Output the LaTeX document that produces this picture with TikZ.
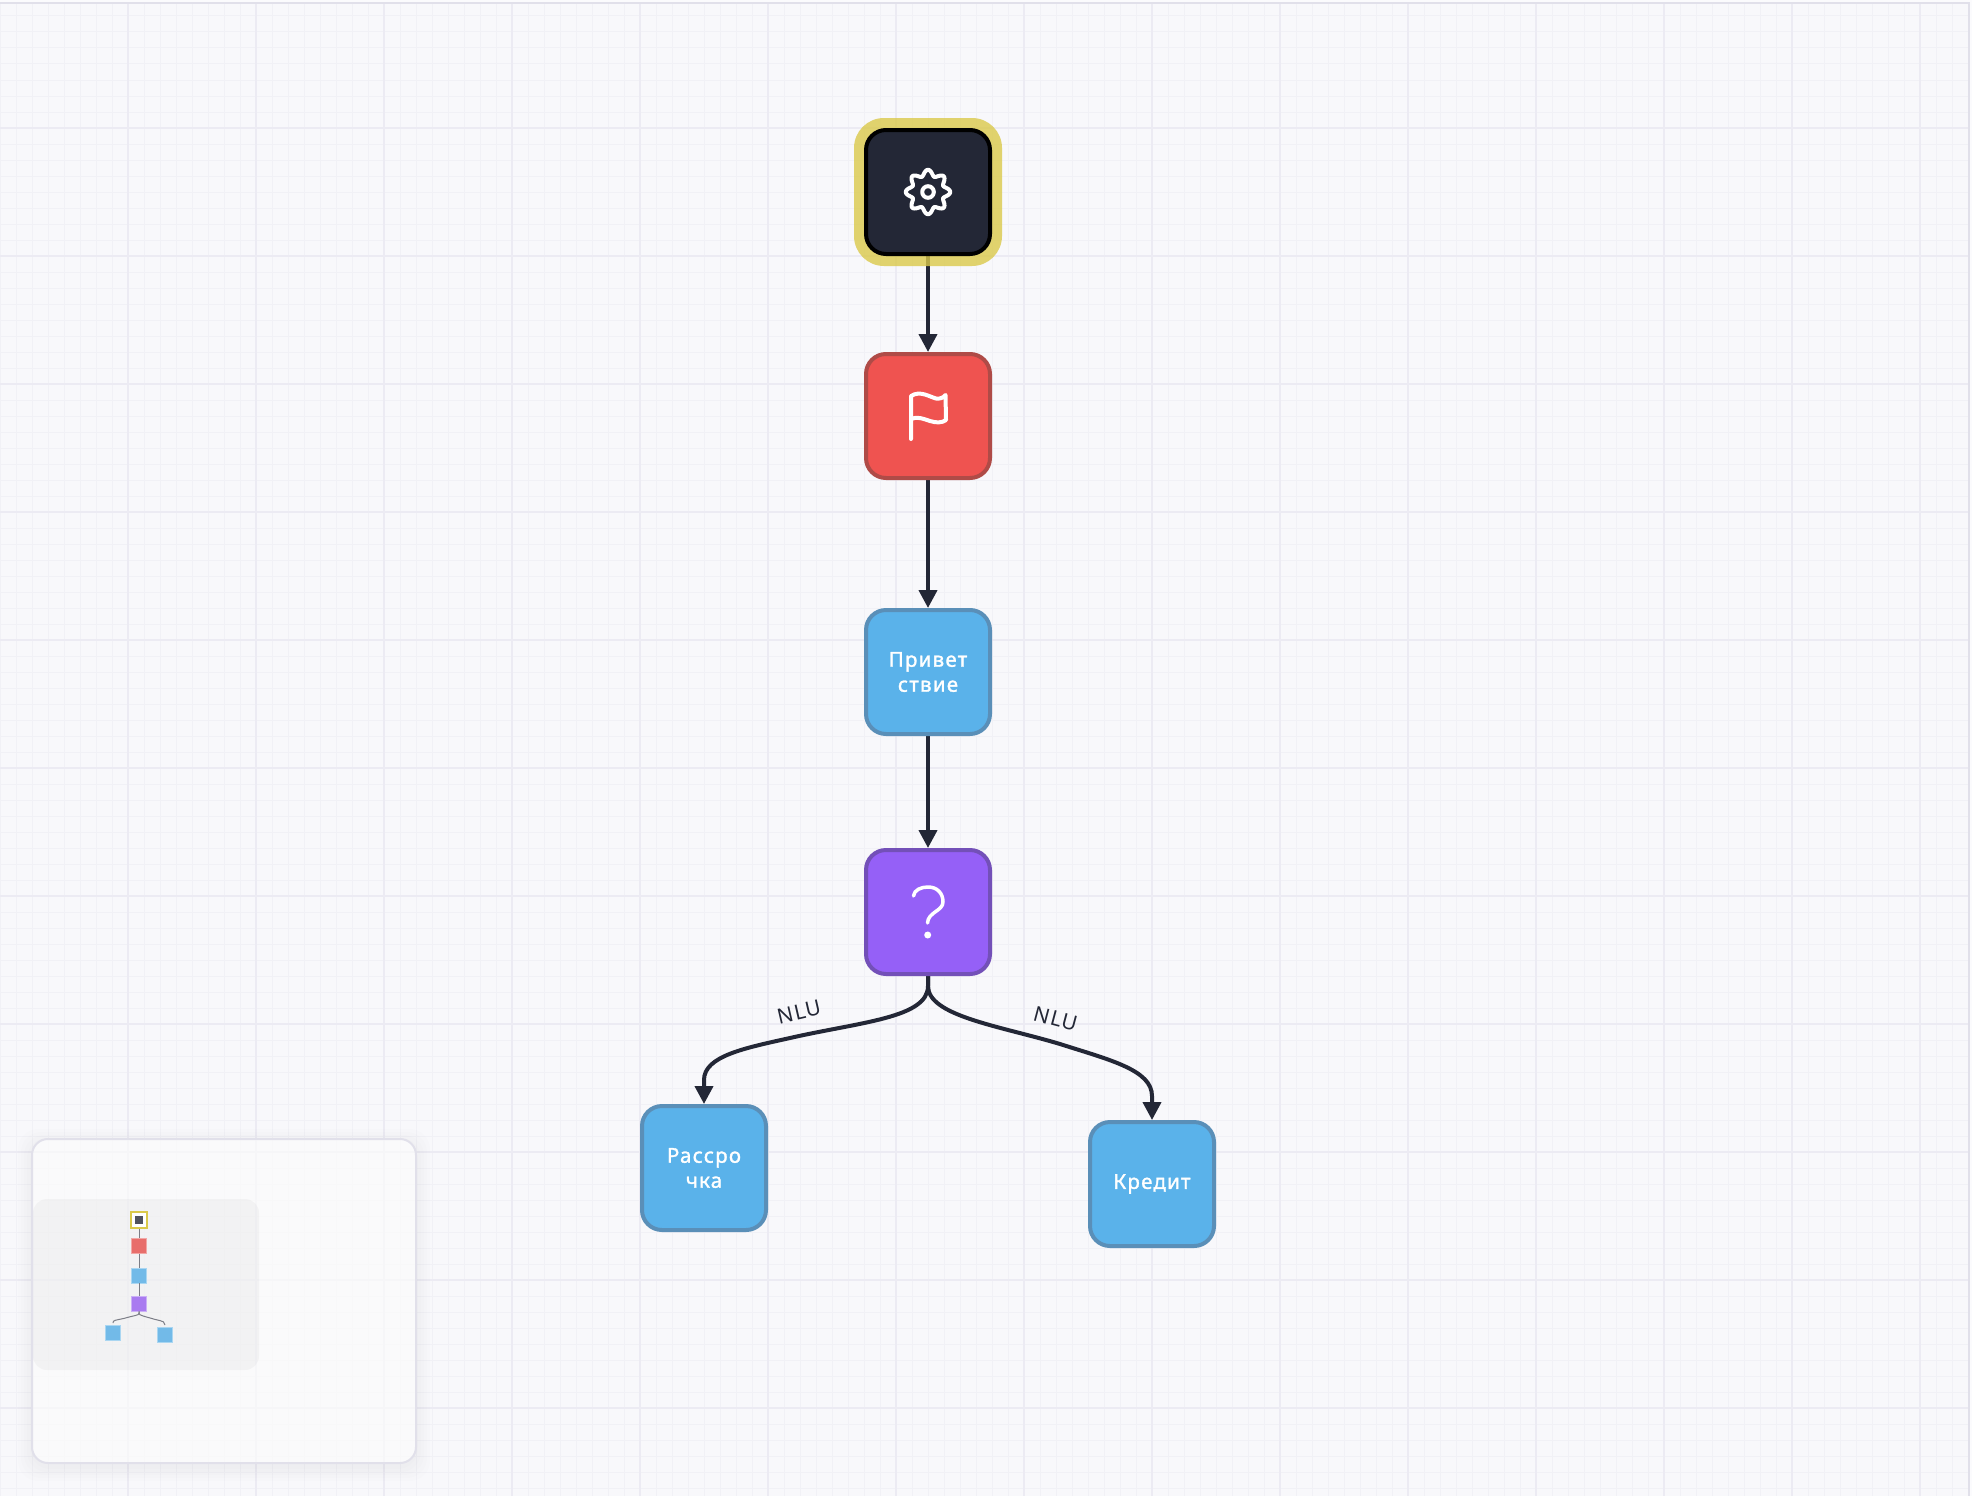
\documentclass[tikz,border=0pt]{standalone}
\usepackage{fontspec}
\setmainfont{Noto Sans}
\newfontfamily\labelfont[FakeBold=1.5,LetterSpace=6]{Noto Sans}
\newfontfamily\edgefont[LetterSpace=5]{Noto Sans}
\usetikzlibrary{arrows.meta}
\pgfdeclarelayer{lower}
\pgfsetlayers{lower,main}
\definecolor{canvas}{HTML}{F8F8FB}
\definecolor{gridmajor}{HTML}{ECEBF3}
\definecolor{gridminor}{HTML}{F1F1F6}
\definecolor{frameline}{HTML}{E1E0EA}
\definecolor{ink}{HTML}{232736}
\definecolor{halo}{HTML}{DAC94A}
\definecolor{redfill}{HTML}{EF5350}
\definecolor{redline}{HTML}{AF4B47}
\definecolor{bluefill}{HTML}{5AB2EA}
\definecolor{blueline}{HTML}{5A8FB8}
\definecolor{violetfill}{HTML}{9560F7}
\definecolor{violetline}{HTML}{7350B8}
\definecolor{minired}{HTML}{E86E6B}
\definecolor{miniblue}{HTML}{72BAE8}
\definecolor{miniviolet}{HTML}{A97BF0}
\tikzset{
  blockbase/.style={rectangle,rounded corners=20pt,minimum size=124pt,inner sep=0pt,line width=4pt,
    text=white,align=center,font=\labelfont\fontsize{20.5}{25}\selectfont},
  startblock/.style={blockbase,draw=black,fill=ink},
  flagblock/.style={blockbase,draw=redline,fill=redfill},
  textblock/.style={blockbase,draw=blueline,fill=bluefill},
  askblock/.style={blockbase,draw=violetline,fill=violetfill},
  haloblock/.style={rectangle,rounded corners=30pt,minimum size=148pt,inner sep=0pt,fill=halo,fill opacity=.8},
  flow/.style={draw=ink,line width=4pt,-{Triangle[width=18pt,length=18pt]}},
  edgetext/.style={text=ink,inner sep=0pt,font=\edgefont\fontsize{21}{24}\selectfont},
  glyph/.style={draw=white,line width=4pt,line cap=round,line join=round},
  minibox/.style={rectangle,minimum size=15pt,inner sep=0pt,line width=.8pt},
  miniflow/.style={draw=ink!60,line width=1pt},
}
\begin{document}
\begin{tikzpicture}[x=1pt,y=-1pt]
\useasboundingbox (0,0) rectangle (1972,1496);
\begin{pgfonlayer}{lower}
  % canvas and its grid
  \fill[canvas!60!white] (0,0) rectangle (1972,1496);
  \fill[canvas] (0,3) rectangle (1969,1496);
  \foreach \k in {0,16,...,1968} \draw[gridminor,line width=1pt] (\k,3) -- (\k,1496);
  \foreach \k in {16,32,...,1488} \draw[gridminor,line width=1pt] (0,\k) -- (1969,\k);
  \foreach \k in {128,256,...,1920} \draw[gridmajor,line width=1.6pt] (\k,3) -- (\k,1496);
  \foreach \k in {128,256,...,1408} \draw[gridmajor,line width=1.6pt] (0,\k) -- (1969,\k);
  \draw[frameline,line width=2pt] (0,3) -- (1969,3) -- (1969,1496);
\end{pgfonlayer}

% flow blocks
\node[haloblock] (halo) at (928,192) {};
\node[startblock] (start) at (928,192) {};
\node[flagblock] (flag) at (928,416) {};
\node[textblock] (greet) at (928,672) {Привет\\ствие};
\node[askblock] (ask) at (928,912) {};
\node[textblock] (install) at (704,1168) {Рассро\\чка};
\node[textblock] (credit) at (1152,1184) {Кредит};

% connectors run beneath the blocks and the halo
\begin{pgfonlayer}{lower}
  \draw[flow] (start.south) -- (flag.north);
  \draw[flow] (flag.south) -- (greet.north);
  \draw[flow] (greet.south) -- (ask.north);
  \coordinate (fork) at (928,986);
  \draw[flow] (ask.south) -- (fork) .. controls (928,1018) and (860,1022) .. (790,1038)
     .. controls (745,1048) and (704,1056) .. (704,1080) -- (install.north);
  \draw[flow] (ask.south) -- (fork) .. controls (928,1016) and (1000,1026) .. (1060,1044)
     .. controls (1110,1060) and (1152,1070) .. (1152,1096) -- (credit.north);
\end{pgfonlayer}
\node[edgetext,rotate=13] (nluleft) at (799.5,1012) {NLU};
\node[edgetext,rotate=-15] (nluright) at (1056,1019) {NLU};

% gear icon
\draw[glyph] plot[domain=0:360,samples=193,smooth] ({928+(19.3+2.9*cos(8*\x))*sin(\x)},{192+(19.3+2.9*cos(8*\x))*cos(\x)}) -- cycle;
\draw[glyph] (928,192) circle (5.8);

% flag icon
\draw[glyph] (911,439) -- (911,396) .. controls (920,390) and (930,397) .. (936,398.5) .. controls (940,399) and (943,398) .. (945.5,395) -- (946,420) .. controls (942,423) and (936,423) .. (930,421) .. controls (924,419) and (917,416) .. (911,419);

% question mark icon
\draw[glyph,line width=3.5pt] (913.5,896) .. controls (914,890) and (921,887) .. (928,887) .. controls (937,887) and (943,893) .. (943,902) .. controls (943,911) and (928,912) .. (927.5,923);
\fill[white] (927.7,935) circle (3.5);

% overview panel with its soft shadow
\foreach \g in {14,11,8,5,2}
  \fill[black,opacity=.006,rounded corners=20pt] (32-\g,1139-\g+4) rectangle (416+\g,1463+\g+4);
\draw[fill=white,fill opacity=.72,draw=frameline,line width=2pt,rounded corners=16pt] (32,1139) rectangle (416,1463);
\fill[black!45!frameline,fill opacity=.06,rounded corners=14pt] (33,1199) rectangle (259,1370);

\node[minibox,fill=white,draw=halo,line width=2pt,minimum size=15.5pt] (mstart) at (139,1220) {};
\node[rectangle,minimum size=8pt,inner sep=0pt,fill=ink!80] (mcore) at (139,1220) {};
\node[minibox,fill=minired,draw=minired!60!white] (mflag) at (139,1246) {};
\node[minibox,fill=miniblue,draw=miniblue!60!white] (mgreet) at (139,1275.5) {};
\node[minibox,fill=miniviolet,draw=miniviolet!60!white] (mask) at (139,1303.5) {};
\node[minibox,fill=miniblue,draw=miniblue!60!white] (minstall) at (113,1333) {};
\node[minibox,fill=miniblue,draw=miniblue!60!white] (mcredit) at (165,1335) {};
\draw[miniflow] (mstart.south) -- (mflag.north);
\draw[miniflow] (mflag.south) -- (mgreet.north);
\draw[miniflow] (mgreet.south) -- (mask.north);
\draw[miniflow] (mask.south) -- ++(0,2) .. controls ++(0,2) and ++(10,-3) .. ++(-15,5) .. controls ++(-9,2) and ++(0,-3) .. (113,1323);
\draw[miniflow] (mask.south) -- ++(0,2) .. controls ++(0,2) and ++(-10,-3) .. ++(16,6) .. controls ++(9,2) and ++(0,-3) .. (165,1325);
\end{tikzpicture}
\end{document}
